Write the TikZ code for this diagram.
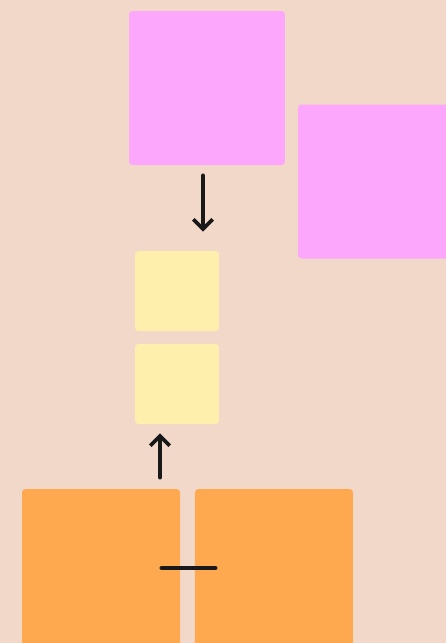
\documentclass[tikz,border=0pt]{standalone}
\usepackage{tikz}
\usetikzlibrary{arrows.meta, positioning}
\definecolor{bgpeach}{RGB}{241, 216, 200}
\definecolor{notepink}{RGB}{252, 166, 252}
\definecolor{noteyellow}{RGB}{255, 239, 172}
\definecolor{noteorange}{RGB}{254, 169, 80}
\tikzset{
  note/.style={rounded corners=0.07cm, inner sep=0pt},
  pinknote/.style={note, fill=notepink, minimum width=3.12cm, minimum height=3.08cm},
  yellownote/.style={note, fill=noteyellow, minimum width=1.68cm, minimum height=1.6cm},
  orangenote/.style={note, fill=noteorange, minimum width=3.16cm, minimum height=3.16cm},
  penarrow/.style={-{Straight Barb[length=5.5pt, width=11pt]}, line width=0.075cm, line cap=round, black!90},
  penline/.style={line width=0.075cm, line cap=round, black!90},
}
\begin{document}
\begin{tikzpicture}
  \clip (0,0) rectangle (8.92,-12.86);
  \fill[bgpeach] (0,0) rectangle (8.92,-12.86);
  \useasboundingbox (0,0) rectangle (8.92,-12.86);
  % notes
  \node[pinknote] (pk1) at (4.14,-1.76) {};
  \node[pinknote] (pk2) at (7.52,-3.63) {};
  \node[yellownote] (yl1) at (3.54,-5.82) {};
  \node[yellownote] (yl2) at (3.54,-7.68) {};
  \node[orangenote] (or1) at (2.02,-11.36) {};
  \node[orangenote] (or2) at (5.48,-11.36) {};
  % pen strokes
  \draw[penarrow] ([xshift=-0.08cm, yshift=-0.2cm]pk1.south) -- ([xshift=0.52cm, yshift=0.38cm]yl1.north);
  \draw[penarrow] ([xshift=1.18cm, yshift=0.22cm]or1.north) -- ([xshift=-0.34cm, yshift=-0.18cm]yl2.south);
  \draw[penline] ([xshift=-0.38cm]or1.east) -- ([xshift=0.42cm]or2.west);
\end{tikzpicture}
\end{document}
